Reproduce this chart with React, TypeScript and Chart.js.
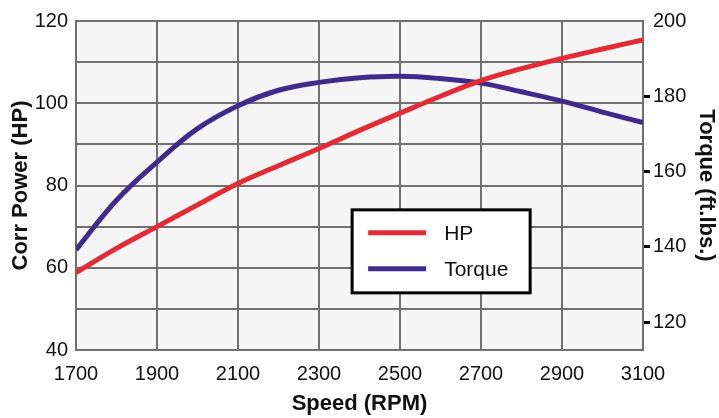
import React, { useEffect, useRef } from "react";
import { Chart, registerables } from "chart.js";

Chart.register(...registerables);

const rpm = [1700, 1800, 1900, 2000, 2100, 2200, 2300, 2400, 2500, 2600, 2700, 2800, 2900, 3000, 3100];
const hpValues = [58.8, 64.7, 70.0, 75.3, 80.5, 84.8, 89.0, 93.4, 97.6, 101.7, 105.5, 108.4, 110.9, 113.2, 115.4];
const torqueValues = [139.2, 152.4, 162.5, 171.4, 177.5, 181.6, 183.7, 184.9, 185.3, 184.7, 183.5, 181.2, 178.7, 175.8, 173.0];

const xTickValues = [1700, 1900, 2100, 2300, 2500, 2700, 2900, 3100];
const leftTickValues = [40, 60, 80, 100, 120];
const rightTickValues = [120, 140, 160, 180, 200];

const seriesLabels = ["HP", "Torque"];
const xTitle = "Speed (RPM)";
const leftTitle = "Corr Power (HP)";
const rightTitle = "Torque (ft.lbs.)";

const RED = "#e22b35";
const PURPLE = "#3f2b8b";
const GRID = "#707070";
const FONT = "'Liberation Sans', Arial, Helvetica, sans-serif";

const bgPlugin = {
  id: "plotBg",
  beforeDraw(chart: any) {
    const { ctx, chartArea } = chart;
    ctx.save();
    ctx.fillStyle = "#f5f5f5";
    ctx.fillRect(chartArea.left, chartArea.top, chartArea.width, chartArea.height);
    ctx.restore();
  },
};

const boxLegendPlugin = {
  id: "boxLegend",
  afterDatasetsDraw(chart: any) {
    const { ctx, chartArea } = chart;
    const x0 = chartArea.left + chartArea.width * 0.487;
    const y0 = chartArea.top + chartArea.height * 0.574;
    const w = 178;
    const h = 83;
    ctx.save();
    ctx.fillStyle = "#ffffff";
    ctx.fillRect(x0, y0, w, h);
    ctx.strokeStyle = "#000000";
    ctx.lineWidth = 3;
    ctx.strokeRect(x0, y0, w, h);
    chart.data.datasets.forEach((ds: any, i: number) => {
      const cy = y0 + 23 + i * 36;
      ctx.strokeStyle = ds.borderColor;
      ctx.lineWidth = 5;
      ctx.beginPath();
      ctx.moveTo(x0 + 16, cy);
      ctx.lineTo(x0 + 74, cy);
      ctx.stroke();
      ctx.fillStyle = "#111111";
      ctx.font = `21px ${FONT}`;
      ctx.textBaseline = "middle";
      ctx.textAlign = "left";
      ctx.fillText(ds.label, x0 + 92, cy + 1);
    });
    ctx.restore();
  },
};

export default function App() {
  const canvasRef = useRef<HTMLCanvasElement | null>(null);

  useEffect(() => {
    document.body.style.margin = "0";
    const canvas = canvasRef.current;
    if (!canvas) return;
    const chart = new Chart(canvas, {
      type: "line",
      data: {
        datasets: [
          {
            label: seriesLabels[0],
            data: rpm.map((x, i) => ({ x, y: hpValues[i] })),
            borderColor: RED,
            backgroundColor: RED,
            borderWidth: 5,
            pointRadius: 0,
            tension: 0.4,
            yAxisID: "y",
          },
          {
            label: seriesLabels[1],
            data: rpm.map((x, i) => ({ x, y: torqueValues[i] })),
            borderColor: PURPLE,
            backgroundColor: PURPLE,
            borderWidth: 5,
            pointRadius: 0,
            tension: 0.4,
            yAxisID: "y2",
          },
        ],
      },
      plugins: [bgPlugin, boxLegendPlugin],
      options: {
        animation: false,
        responsive: false,
        maintainAspectRatio: false,
        events: [],
        layout: { padding: { top: 21, left: 0, right: 0, bottom: 0 } },
        plugins: {
          legend: { display: false },
          tooltip: { enabled: false },
        },
        scales: {
          x: {
            type: "linear",
            min: 1700,
            max: 3100,
            afterBuildTicks: (scale: any) => {
              scale.ticks = xTickValues.map((v) => ({ value: v }));
            },
            afterFit: (scale: any) => {
              scale.height = 68;
            },
            grid: { color: GRID, lineWidth: 2, drawTicks: false },
            border: { color: GRID, width: 2 },
            ticks: {
              padding: 12,
              color: "#111111",
              font: { family: FONT, size: 20 },
              maxRotation: 0,
              autoSkip: false,
              callback: (v: any) => String(v),
            },
            title: {
              display: true,
              text: xTitle,
              color: "#111111",
              font: { family: FONT, size: 22, weight: "bold" },
              padding: { top: 0, bottom: 1 },
            },
          },
          y: {
            type: "linear",
            position: "left",
            min: 40,
            max: 120,
            ticks: {
              stepSize: 10,
              padding: 8,
              color: "#111111",
              font: { family: FONT, size: 20 },
              callback: (v: any) => (leftTickValues.includes(Number(v)) ? String(v) : ""),
            },
            afterFit: (scale: any) => {
              scale.width = 76;
            },
            grid: { color: GRID, lineWidth: 2, drawTicks: false },
            border: { color: GRID, width: 2 },
            title: {
              display: true,
              text: leftTitle,
              color: "#111111",
              font: { family: FONT, size: 22, weight: "bold" },
              padding: { top: 8, bottom: 0 },
            },
          },
          y2: {
            type: "linear",
            position: "right",
            min: 112.6,
            max: 200,
            afterBuildTicks: (scale: any) => {
              scale.ticks = rightTickValues.map((v) => ({ value: v }));
            },
            afterFit: (scale: any) => {
              scale.width = 76;
            },
            grid: {
              drawOnChartArea: false,
              drawTicks: true,
              tickLength: 7,
              tickWidth: 3,
              tickColor: (ctx: any) => (ctx.tick && ctx.tick.value === 200 ? "rgba(0,0,0,0)" : "#000000"),
            },
            border: { color: GRID, width: 2 },
            ticks: {
              padding: 3,
              color: "#111111",
              font: { family: FONT, size: 20 },
              callback: (v: any) => String(v),
            },
            title: {
              display: true,
              text: rightTitle,
              color: "#111111",
              font: { family: FONT, size: 22, weight: "bold" },
              padding: { top: 0, bottom: 0 },
            },
          },
        },
      },
    } as any);
    return () => chart.destroy();
  }, []);

  return (
    <div style={{ width: 719, height: 418 }}>
      <canvas ref={canvasRef} width={719} height={418} style={{ display: "block" }} />
    </div>
  );
}
